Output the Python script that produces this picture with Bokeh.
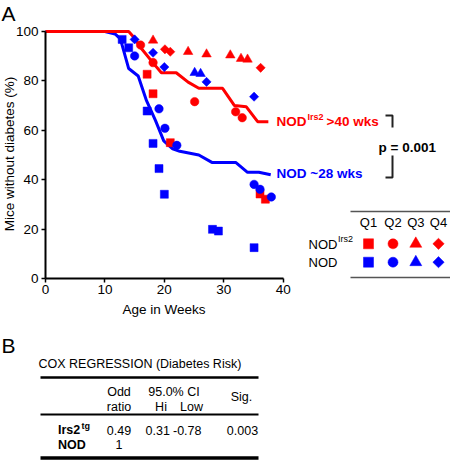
import numpy as np
from bokeh.plotting import figure
from bokeh.models import Range1d, LinearAxis, FixedTicker
from bokeh.embed import file_html
from bokeh.resources import INLINE
from bokeh.core.properties import value

# ---------------- data ----------------
red_curve_weeks = [0, 14, 15, 16, 18.2, 19.5, 22, 24, 25.8, 29.8, 31.8, 33.8, 35.7, 37.5]
red_curve_pct = [100, 100, 97.3, 93.5, 87, 83.3, 83.3, 79.5, 77, 77, 70, 69.5, 63.5, 63.5]
blue_curve_weeks = [0, 10, 11.7, 12.6, 14, 15.6, 17, 18.5, 19.9, 21.4, 22.6, 25.8, 28, 32, 34, 35.9, 37.9]
blue_curve_pct = [100, 100, 99, 97, 85, 82, 72, 64, 55.7, 52.5, 51.5, 50, 47, 47, 43, 43, 42]

irs2_q1_weeks = [17.1, 18.1, 21.0, 36.1, 37.0]
irs2_q1_pct = [82.7, 74.8, 55.0, 34.2, 32.1]
irs2_q2_weeks = [16.0, 18.1, 25.1, 32.0, 33.1]
irs2_q2_pct = [94.5, 87.4, 71.6, 67.5, 65.1]
irs2_q3_weeks = [18.1, 24.0, 27.1, 31.1, 32.9, 34.0]
irs2_q3_pct = [96.4, 91.8, 90.8, 90.4, 89.0, 88.7]
irs2_q4_weeks = [20.1, 21.0, 36.2]
irs2_q4_pct = [92.8, 91.8, 85.3]

nod_q1_weeks = [12.9, 14.0, 17.1, 18.1, 19.1, 20.0, 28.1, 29.1, 35.1]
nod_q1_pct = [96.8, 93.4, 67.8, 54.7, 44.5, 34.1, 19.9, 19.2, 12.5]
nod_q2_weeks = [15.0, 19.1, 20.1, 22.1, 35.1, 36.1, 38.0]
nod_q2_pct = [90.1, 68.7, 60.8, 53.9, 38.1, 36.1, 33.0]
nod_q3_weeks = [25.1, 26.1]
nod_q3_pct = [83.3, 82.9]
nod_q4_weeks = [15.0, 18.1, 20.0, 27.1, 35.1]
nod_q4_pct = [96.8, 91.4, 85.6, 79.6, 73.6]

x_ticks = [0, 10, 20, 30, 40]
y_ticks = [0, 20, 40, 60, 80, 100]
quartiles = ["Q1", "Q2", "Q3", "Q4"]

cox_title = "COX REGRESSION (Diabetes Risk)"
cox_groups = ["Irs2", "NOD"]
cox_group_sup = ["tg", ""]
cox_odd_ratio = ["0.49", "1"]
cox_ci_hi = ["0.31", ""]
cox_ci_low = ["-0.78", ""]
cox_sig = ["0.003", ""]

# ---------------- layout / style ----------------
RED = "#ff0000"
BLUE = "#0000ff"
FONT = "Liberation Sans"

W, H = 450, 460
X0_PX, Y0_PX = 45, 278            # picture position of the (0 wk, 0 %) origin
X_SCALE, Y_SCALE = 5.9425, 2.47   # px per week, px per percent
BASELINE_FIX = 0.33               # em; compensates the renderer's baseline offset

p = figure(width=W, height=H,
           x_range=Range1d(-X0_PX / X_SCALE, (W - X0_PX) / X_SCALE),
           y_range=Range1d(-(H - Y0_PX) / Y_SCALE, Y0_PX / Y_SCALE),
           output_backend="svg", toolbar_location=None,
           x_axis_location=None, y_axis_location=None, min_border=0)
p.outline_line_color = None
p.grid.visible = False
p.background_fill_color = "white"
p.border_fill_color = "white"
# picture-pixel ranges used only to place texts and rules
p.extra_x_ranges = {"px": Range1d(0, W)}
p.extra_y_ranges = {"py": Range1d(H, 0)}
PX = dict(x_range_name="px", y_range_name="py")

def style_axis(ax):
    ax.axis_line_width = 2
    ax.axis_line_color = "black"
    ax.major_tick_line_width = 1.5
    ax.major_tick_line_color = "black"
    ax.major_tick_out = 4
    ax.major_tick_in = 0
    ax.minor_tick_line_color = None
    ax.major_label_text_font = FONT
    ax.major_label_text_font_size = "13.5px"
    ax.major_label_text_color = "black"

xaxis = LinearAxis(fixed_location=0, bounds=(0, 40), ticker=FixedTicker(ticks=x_ticks))
style_axis(xaxis)
xaxis.major_label_standoff = 2
p.add_layout(xaxis, "below")

yaxis = LinearAxis(fixed_location=0, bounds=(0, 100), ticker=FixedTicker(ticks=y_ticks))
style_axis(yaxis)
yaxis.major_label_standoff = 3
p.add_layout(yaxis, "left")

# curves
p.line(blue_curve_weeks, blue_curve_pct, line_color=BLUE, line_width=3)
p.line(red_curve_weeks, red_curve_pct, line_color=RED, line_width=3)

# markers
def quart(xs, ys, q, color, big=False, **kw):
    specs = {
        "Q1": dict(marker="square", size=10 if big else 8, angle=0),
        "Q2": dict(marker="circle", size=10 if big else 8.5, angle=0),
        "Q3": dict(marker="triangle", size=12 if big else 9.5, angle=0),
        "Q4": dict(marker="square", size=8 if big else 6.5, angle=np.pi / 4),
    }[q]
    p.scatter(xs, ys, color=color, line_width=0.5, **specs, **kw)

quart(irs2_q1_weeks, irs2_q1_pct, "Q1", RED)
quart(irs2_q2_weeks, irs2_q2_pct, "Q2", RED)
quart(irs2_q3_weeks, irs2_q3_pct, "Q3", RED)
quart(irs2_q4_weeks, irs2_q4_pct, "Q4", RED)
quart(nod_q1_weeks, nod_q1_pct, "Q1", BLUE)
quart(nod_q2_weeks, nod_q2_pct, "Q2", BLUE)
quart(nod_q3_weeks, nod_q3_pct, "Q3", BLUE)
quart(nod_q4_weeks, nod_q4_pct, "Q4", BLUE)

def txt(x, y, s, size="12.5px", color="black", bold=False, align="left", angle=0):
    fix = BASELINE_FIX * float(size[:-2])
    if angle == 0:
        y -= fix
    else:
        x -= fix
    p.text(x=[x], y=[y], text=[s], text_font=value(FONT), text_font_size=value(size),
           text_font_style="bold" if bold else "normal", text_color=color,
           text_align=align, text_baseline="alphabetic", text_line_height=1.0,
           angle=angle, **PX)

# panel letter, axis titles
txt(1, 20, "A", "21px")
txt(163.5, 313, "Age in Weeks", "13.5px", align="center")
txt(13.3, 153.5, "Mice without diabetes (%)", "13.5px", align="center", angle=np.pi / 2)

# curve annotations
txt(276, 125.5, "NOD", "13.5px", RED, True)
txt(307, 119, "Irs2", "9px", RED, True)
txt(326, 125.5, ">40 wks", "13.5px", RED, True)
txt(276, 177, "NOD ~28 wks", "13.5px", BLUE, True)
# bracket + p value
p.multi_line(xs=[[385, 392, 392], [392, 392, 385]], ys=[[115, 115, 127], [155, 177, 177]],
             line_color="#222222", line_width=2, **PX)
txt(378, 151.5, "p = 0.001", "13.5px", "black", True)

# quartile legend table
q_x = [368, 392.5, 415.3, 438]
p.segment(x0=[350, 350], y0=[211, 277], x1=[450, 450], y1=[211, 277],
          line_color="#555555", line_width=1.5, **PX)
for qx, q in zip(q_x, quartiles):
    txt(qx, 226, q, "13px", align="center")
    quart([qx], [243.3], q, RED, big=True, **PX)
    quart([qx], [261.7], q, BLUE, big=True, **PX)
txt(308, 248, "NOD", "13px")
txt(337.5, 241.5, "Irs2", "9px")
txt(308, 266.7, "NOD", "13px")

# ---------------- panel B: Cox regression table ----------------
txt(1, 351.7, "B", "21px")
txt(38, 367.3, cox_title)
p.segment(x0=[40, 40, 40], y0=[377, 414, 457.5], x1=[258, 258, 258], y1=[377, 414, 457.5],
          line_color="black", line_width=[2.5, 2, 3.5], **PX)
txt(118.5, 395.5, "Odd", align="center")
txt(118.5, 410.5, "ratio", align="center")
txt(173.5, 395.5, "95.0% CI", align="center")
txt(160.5, 410.5, "Hi", align="center")
txt(191, 410.5, "Low", align="center")
txt(241, 401, "Sig.", align="center")
row_y = [433.7, 448.3]
for i in range(len(cox_groups)):
    y = row_y[i]
    txt(57.5, y, cox_groups[i], bold=True)
    if cox_group_sup[i]:
        txt(81, y - 5, cox_group_sup[i], "9px", bold=True)
    txt(118.5, y, cox_odd_ratio[i], align="center")
    if cox_ci_hi[i]:
        txt(145, y, cox_ci_hi[i])
    if cox_ci_low[i]:
        txt(172.5, y, cox_ci_low[i])
    if cox_sig[i]:
        txt(242, y, cox_sig[i], align="center")

open("out.html", "w").write(file_html(p, INLINE))
